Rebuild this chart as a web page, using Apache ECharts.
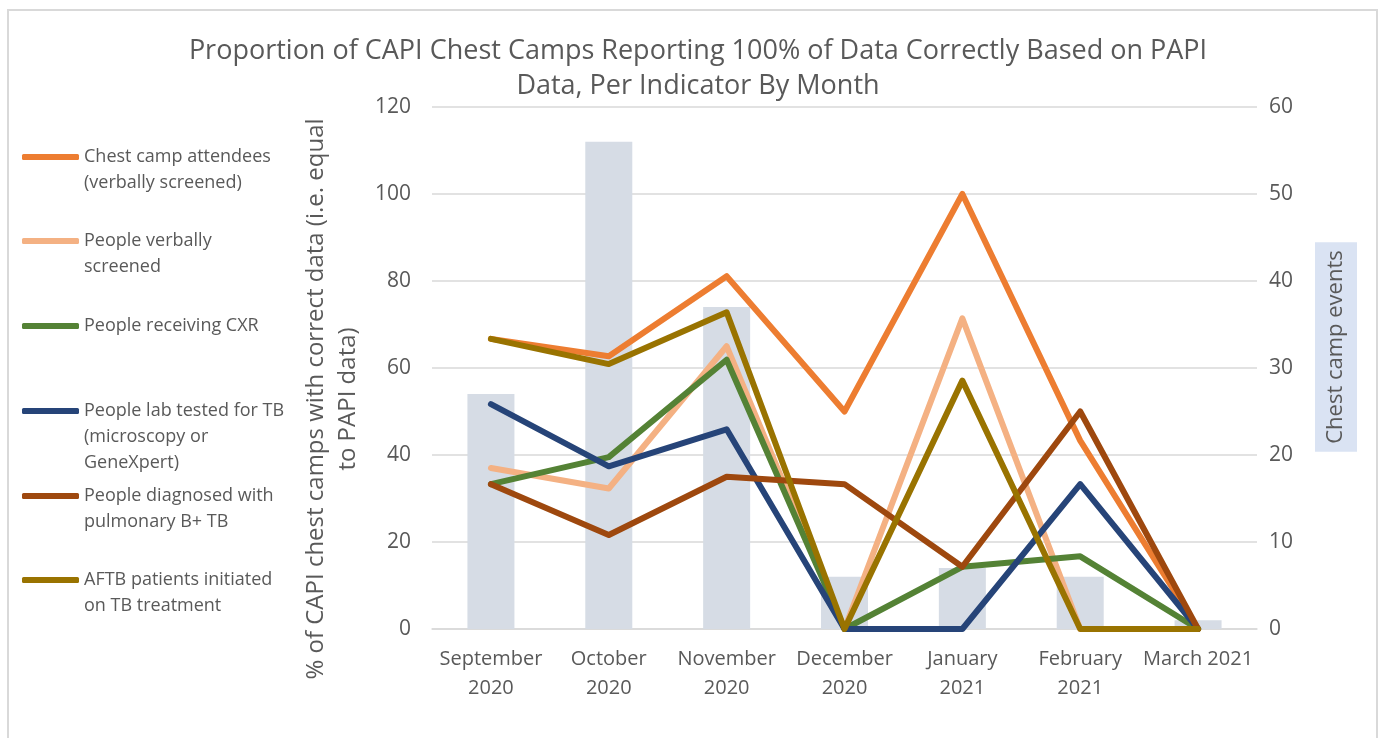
<!DOCTYPE html>
<html>
<head>
<meta charset="utf-8">
<script src="https://cdn.jsdelivr.net/npm/echarts@6/dist/echarts.min.js"></script>
<style>
  html, body { margin: 0; padding: 0; background: #fff; }
  #frame { position: absolute; left: 7px; top: 9px; width: 1367px; height: 745px; border: 2px solid #d9d9d9; }
  #chart { position: absolute; left: 0; top: 0; width: 1384px; height: 738px; }
</style>
</head>
<body>
<div id="frame"></div>
<div id="chart"></div>
<script>
  // months on the x axis
  const months = ['September\n2020', 'October\n2020', 'November\n2020', 'December\n2020', 'January\n2021', 'February\n2021', 'March 2021'];
  // chest camp events (right axis, bars)
  const campEvents = [27, 56, 37, 6, 7, 6, 1];
  // % of camps with correct data, per indicator
  const attendees = [66.7, 62.7, 81.1, 50, 100, 43.3, 0];
  const verballyScreened = [37, 32.3, 65, 0, 71.4, 0, 0];
  const receivingCxr = [33.3, 39.5, 61.9, 0, 14.3, 16.7, 0];
  const labTested = [51.7, 37.4, 45.9, 0, 0, 33.3, 0];
  const diagnosed = [33.3, 21.6, 35, 33.3, 14.3, 50, 0];
  const aftbInitiated = [66.7, 60.9, 72.8, 0, 57.1, 0, 0];

  const lineNames = [
    'Chest camp attendees\n(verbally screened)',
    'People verbally\nscreened',
    'People receiving CXR',
    'People lab tested for TB\n(microscopy or\nGeneXpert)',
    'People diagnosed with\npulmonary B+ TB',
    'AFTB patients initiated\non TB treatment'
  ];
  const lineData = [attendees, verballyScreened, receivingCxr, labTested, diagnosed, aftbInitiated];
  const lineColors = ['#ED7D31', '#F4B183', '#548235', '#264478', '#9E480E', '#997300'];
  // first-line y of each legend entry
  const legendRows = [157, 241, 326, 411, 496, 580];

  const grey = '#595959';
  const font = 'Open Sans';
  const LH = 26;

  const chart = echarts.init(document.getElementById('chart'));

  // one legend per entry so the icon sits on the first text line
  const legends = lineNames.map(function (name, i) {
    const n = name.split('\n').length;
    return {
      data: [name],
      left: 22,
      top: legendRows[i] - (2 * n - 1) * LH / 2,
      padding: 0,
      orient: 'vertical',
      icon: 'roundRect',
      itemWidth: 57,
      itemHeight: 6,
      selectedMode: false,
      formatter: function (s) { return '\n'.repeat(n - 1) + s; },
      textStyle: { color: grey, fontFamily: font, fontSize: 18, lineHeight: LH }
    };
  });

  const series = [{
    name: 'Chest camp events',
    type: 'bar',
    yAxisIndex: 1,
    data: campEvents,
    barWidth: 47,
    itemStyle: { color: '#D6DCE5' },
    z: 1
  }];
  lineNames.forEach(function (name, i) {
    series.push({
      name: name,
      type: 'line',
      data: lineData[i],
      showSymbol: false,
      symbol: 'none',
      z: 3 + i,
      itemStyle: { color: lineColors[i] },
      lineStyle: { color: lineColors[i], width: 6, cap: 'round', join: 'round' }
    });
  });

  chart.setOption({
    animation: false,
    title: {
      text: 'Proportion of CAPI Chest Camps Reporting 100% of Data Correctly Based on PAPI\nData, Per Indicator By Month',
      left: 693,
      textAlign: 'center',
      top: 29,
      textStyle: { color: grey, fontFamily: font, fontSize: 27, fontWeight: 'normal', lineHeight: 35 }
    },
    legend: legends,
    grid: { left: 432, right: 127, top: 107, bottom: 109 },
    xAxis: {
      type: 'category',
      data: months,
      axisLine: { lineStyle: { color: '#D9D9D9', width: 1.5 } },
      axisTick: { show: false },
      axisLabel: { interval: 0, color: grey, fontFamily: font, fontSize: 20, lineHeight: 29, margin: 16 }
    },
    yAxis: [{
      type: 'value',
      min: 0, max: 120, interval: 20,
      name: '% of CAPI chest camps with correct data (i.e. equal\nto PAPI data)',
      nameLocation: 'middle',
      nameRotate: 90,
      nameGap: 59,
      nameTextStyle: { color: grey, fontFamily: font, fontSize: 24, lineHeight: 32, padding: [0, 62, 0, 0] },
      axisLine: { show: false },
      axisTick: { show: false },
      axisLabel: { color: grey, fontFamily: font, fontSize: 21, margin: 21 },
      splitLine: { lineStyle: { color: '#D9D9D9', width: 1.5 } }
    }, {
      type: 'value',
      min: 0, max: 60, interval: 10,
      position: 'right',
      name: '{t|Chest camp events}',
      nameLocation: 'middle',
      nameRotate: 90,
      nameGap: 58,
      nameTextStyle: {
        padding: [0, 0, 0, 42],
        rich: {
          t: { color: grey, fontFamily: font, fontSize: 22, backgroundColor: '#DAE3F3', padding: [10, 8, 10, 8] }
        }
      },
      axisLine: { show: false },
      axisTick: { show: false },
      axisLabel: { color: grey, fontFamily: font, fontSize: 21, margin: 12 },
      splitLine: { show: false }
    }],
    series: series
  });
</script>
</body>
</html>
